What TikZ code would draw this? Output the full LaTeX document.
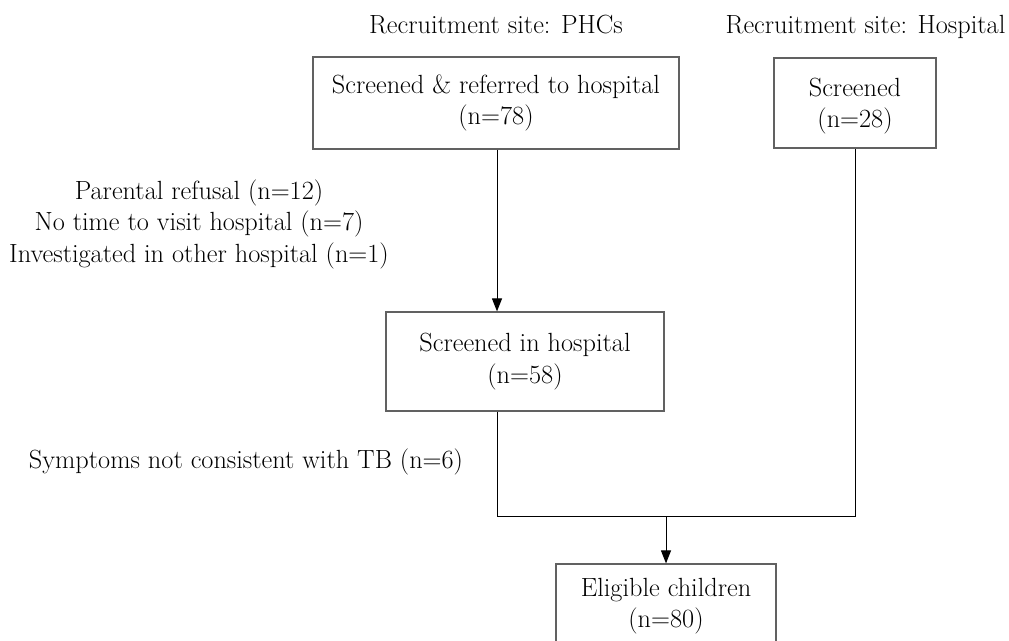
\documentclass[tikz,border=0pt]{standalone}
\usetikzlibrary{arrows.meta}
\begin{document}
\begin{tikzpicture}[x=1pt,y=-1pt,
  every node/.style={font=\fontsize{26.3}{31.5}\selectfont},
  boxnode/.style={draw=black!62,line width=1.2pt,inner sep=0pt,align=center},
  txtnode/.style={inner sep=0pt,align=center},
  conn/.style={draw=black,line width=1.0pt},
  arr/.style={conn,-{Triangle[length=13pt,width=10pt]}}]
\useasboundingbox (0,0) rectangle (1009,640);
\clip (0,0) rectangle (1009,640);
% labels
\node[txtnode,anchor=base] (lphc) at (496,33) {Recruitment site: PHCs};
\node[txtnode,anchor=base] (lhos) at (865.5,33) {Recruitment site: Hospital};
% boxes
\node[boxnode,minimum width=366pt,minimum height=92pt] (b1) at (496,103) {Screened \& referred to hospital\\(n=78)};
\node[boxnode,minimum width=162pt,minimum height=90pt,text depth=0pt] (b2) at (855,103) {Screened\\(n=28)};
\node[boxnode,minimum width=278pt,minimum height=99pt] (b3) at (525,361.5) {Screened in hospital\\(n=58)};
\node[boxnode,minimum width=220pt,minimum height=84pt] (b4) at (666,606) {Eligible children\\(n=80)};
% side texts
\node[txtnode] (ex1) at (199,224) {Parental refusal (n=12)\\No time to visit hospital (n=7)\\Investigated in other hospital (n=1)};
\node[txtnode,anchor=base] (ex2) at (246,468) {Symptoms not consistent with TB (n=6)};
% connectors
\coordinate (jl) at (497,516);
\draw[arr] (b1.south -| jl) -- (b3.north -| jl);
\draw[conn] (b3.south -| jl) -- (jl) -- (b2.south |- jl) -- (b2.south);
\draw[arr] (b4.north |- jl) -- (b4.north);
\end{tikzpicture}
\end{document}
